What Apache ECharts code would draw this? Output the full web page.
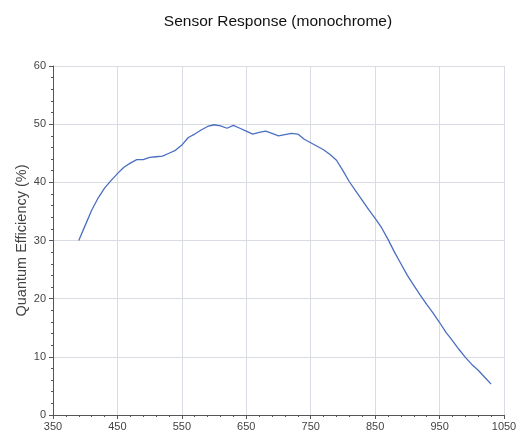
<!DOCTYPE html>
<html>
<head>
<meta charset="utf-8">
<script src="https://cdn.jsdelivr.net/npm/echarts@6/dist/echarts.min.js"></script>
<style>
  html, body { margin: 0; padding: 0; background: #fff; }
  #chart { width: 521px; height: 435px; }
</style>
</head>
<body>
<div id="chart"></div>
<script>
// wavelength (nm) and quantum efficiency (%)
const wavelengths = [390, 400, 410, 420, 430, 440, 450, 460, 470, 480, 490, 500, 510, 520, 530, 540,
  550, 560, 570, 580, 590, 600, 610, 620, 630, 640, 650, 660, 670, 680, 690, 700, 710, 720, 730,
  740, 750, 760, 770, 780, 790, 800, 810, 820, 830, 840, 850, 860, 870, 880, 890, 900, 910, 920,
  930, 940, 950, 960, 970, 980, 990, 1000, 1010, 1020, 1030]
const efficiency = [30.0, 32.6, 35.2, 37.3, 39.0, 40.3, 41.5, 42.6, 43.3, 43.9, 43.9, 44.3, 44.4,
  44.5, 45.0, 45.5, 46.4, 47.7, 48.3, 49.0, 49.6, 49.9, 49.7, 49.3, 49.8, 49.3, 48.8, 48.3, 48.6,
  48.8, 48.4, 48.0, 48.2, 48.4, 48.3, 47.4, 46.8, 46.2, 45.6, 44.8, 43.8, 42.0, 40.1, 38.5, 36.9,
  35.3, 33.8, 32.2, 30.2, 28.0, 26.0, 24.0, 22.3, 20.6, 19.0, 17.5, 15.9, 14.2, 12.8, 11.3, 9.9,
  8.7, 7.7, 6.5, 5.3]
const xTicks = { min: 350, max: 1050, step: 100 }
const yTicks = { min: 0, max: 60, step: 10 }

const chart = echarts.init(document.getElementById('chart'))

const font = 'Liberation Sans, Arial, sans-serif'
const axisCommon = {
  axisLine: { show: true, lineStyle: { color: '#555', width: 1 } },
  axisTick: { show: true, length: 4, lineStyle: { color: '#555' } },
  minorTick: { show: true, splitNumber: 5, length: 2, lineStyle: { color: '#555' } },
  splitLine: { show: true, lineStyle: { color: '#d9dce3', width: 1 } },
  axisLabel: { color: '#444', fontSize: 11, fontFamily: font, formatter: (v) => String(v) },
}

const option = {
  animation: false,
  title: {
    text: 'Sensor Response (monochrome)',
    left: 273,
    textAlign: 'center',
    top: 9,
    textStyle: { color: '#111', fontSize: 15.5, fontWeight: 'normal', fontFamily: font },
  },
  grid: { left: 53, right: 17, top: 66, bottom: 20, containLabel: false },
  xAxis: {
    type: 'value',
    min: xTicks.min,
    max: xTicks.max,
    interval: xTicks.step,
    ...axisCommon,
    axisLabel: { ...axisCommon.axisLabel, margin: 6 },
  },
  yAxis: {
    type: 'value',
    min: yTicks.min,
    max: yTicks.max,
    interval: yTicks.step,
    name: 'Quantum Efficiency (%)',
    nameLocation: 'middle',
    nameGap: 24,
    nameMoveOverlap: false,
    nameTextStyle: { color: '#444', fontSize: 14.5, fontFamily: font },
    ...axisCommon,
    axisLabel: { ...axisCommon.axisLabel, margin: 7 },
  },
  series: [
    {
      type: 'line',
      data: wavelengths.map((w, i) => [w, efficiency[i]]),
      showSymbol: false,
      smooth: false,
      lineStyle: { color: '#4a6fc0', width: 1.3 },
    },
  ],
}

chart.setOption(option)
</script>
</body>
</html>
